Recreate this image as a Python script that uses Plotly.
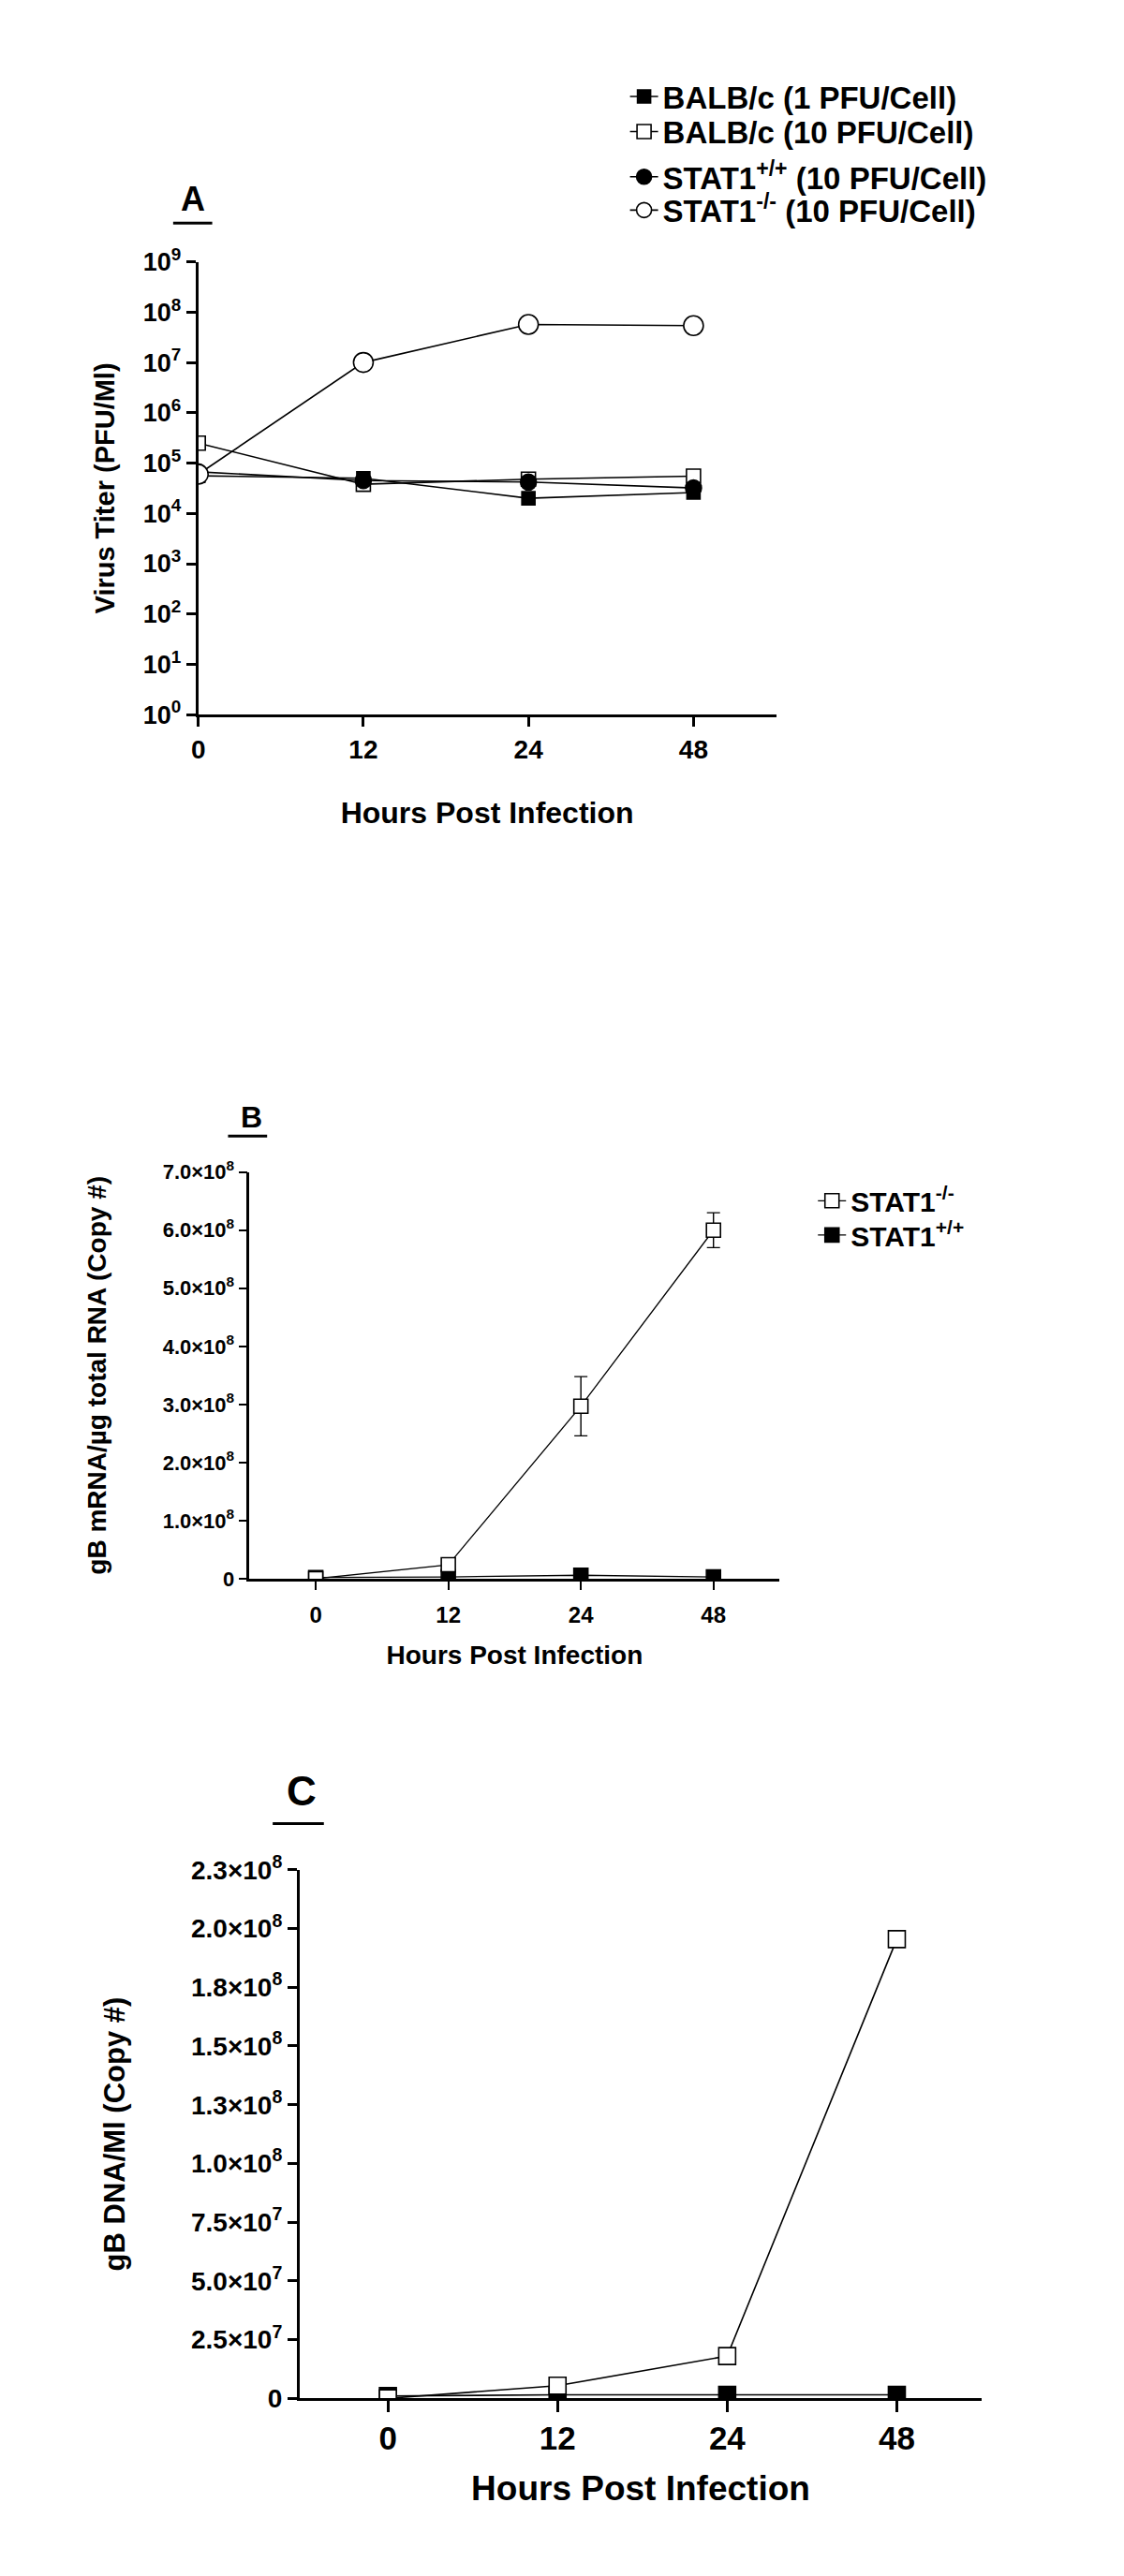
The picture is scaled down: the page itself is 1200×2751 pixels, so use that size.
import plotly.graph_objects as go

# page has an 8px body margin, so the figure is a little smaller than the window
W, H = 1192, 2743
PAD = 8
_FONT = "Liberation Sans, Arial, sans-serif"
_BLACK = "#000000"

# ---------------- data ----------------
hours = ["0", "12", "24", "48"]

# panel A: virus titer (PFU/ml)
titer_balb_1 = [5.6e4, 5.0e4, 2.0e4, 2.6e4]
titer_balb_10 = [2.5e5, 3.8e4, 4.8e4, 5.5e4]
titer_stat_wt = [6.7e4, 4.5e4, 4.2e4, 3.2e4]
titer_stat_ko = [6.0e4, 1.0e7, 5.7e7, 5.4e7]
a_tickvals = [1e0, 1e1, 1e2, 1e3, 1e4, 1e5, 1e6, 1e7, 1e8, 1e9]
a_ticktext = [f"10<sup>{i}</sup>" for i in range(10)]

# panel B: gB mRNA copies / ug total RNA
mrna_ko = [0.0, 2.4e7, 2.97e8, 6.0e8]
mrna_ko_err = [0.0, 0.0, 0.51e8, 0.30e8]
mrna_wt = [2e6, 3e6, 6e6, 3e6]
b_tickvals = [0, 1e8, 2e8, 3e8, 4e8, 5e8, 6e8, 7e8]
b_ticktext = ["0", "1.0×10<sup>8</sup>", "2.0×10<sup>8</sup>", "3.0×10<sup>8</sup>",
              "4.0×10<sup>8</sup>", "5.0×10<sup>8</sup>", "6.0×10<sup>8</sup>",
              "7.0×10<sup>8</sup>"]

# panel C: gB DNA copies / ml
dna_ko = [0.0, 5.4e6, 1.8e7, 1.955e8]
dna_wt = [1.0e6, 1.5e6, 1.5e6, 1.5e6]
c_tickvals = [0, 2.5e7, 5.0e7, 7.5e7, 1.0e8, 1.25e8, 1.5e8, 1.75e8, 2.0e8, 2.25e8]
c_ticktext = ["0", "2.5×10<sup>7</sup>", "5.0×10<sup>7</sup>", "7.5×10<sup>7</sup>",
              "1.0×10<sup>8</sup>", "1.3×10<sup>8</sup>", "1.5×10<sup>8</sup>",
              "1.8×10<sup>8</sup>", "2.0×10<sup>8</sup>", "2.3×10<sup>8</sup>"]


def fx(px):
    return (px - PAD) / W


def fy(py):
    return 1 - (py - PAD) / H


def tfont(size):
    return dict(family=_FONT, size=size, color=_BLACK, weight=700)


def series(x, y, name, symbol, filled, size, xa, ya, legend="legend", width=1.6,
           err=None, show=True):
    kw = {}
    if err is not None:
        kw["error_y"] = dict(type="data", array=err, color=_BLACK, thickness=1.4, width=7)
    return go.Scatter(
        x=x, y=y, name=name, mode="lines+markers",
        xaxis=xa, yaxis=ya, legend=legend, showlegend=show,
        line=dict(color=_BLACK, width=width),
        marker=dict(symbol=symbol, size=size,
                    color=_BLACK if filled else "#FFFFFF",
                    line=dict(color=_BLACK, width=1.6)),
        **kw,
    )


fig = go.Figure()

# ---- A ----
fig.add_trace(series(hours, titer_balb_1, "BALB/c (1 PFU/Cell)", "square", True, 14,
                     "x", "y", legend="legend"))
fig.add_trace(series(hours, titer_balb_10, "BALB/c (10 PFU/Cell)", "square", False, 15,
                     "x", "y", legend="legend2"))
fig.add_trace(series(hours, titer_stat_wt, "STAT1<sup>+/+</sup> (10 PFU/Cell)", "circle", True, 17,
                     "x", "y", legend="legend3"))
fig.add_trace(series(hours, titer_stat_ko, "STAT1<sup>-/-</sup> (10 PFU/Cell)", "circle", False, 21,
                     "x", "y", legend="legend4"))

# ---- B ----
fig.add_trace(series(hours, mrna_wt, "STAT1<sup>+/+</sup>", "square", True, 15,
                     "x2", "y2", legend="legend6", width=1.3))
fig.add_trace(series(hours, mrna_ko, "STAT1<sup>-/-</sup>", "square", False, 15,
                     "x2", "y2", legend="legend5", width=1.3, err=mrna_ko_err))

# ---- C ----
fig.add_trace(series(hours, dna_wt, "STAT1<sup>+/+</sup>", "square", True, 18,
                     "x3", "y3", width=1.6, show=False))
fig.add_trace(series(hours, dna_ko, "STAT1<sup>-/-</sup>", "square", False, 18,
                     "x3", "y3", width=1.6, show=False))

axis_common = dict(showline=True, linecolor=_BLACK, showgrid=False, zeroline=False,
                   ticks="outside", tickcolor=_BLACK, mirror=False)


def legend_at(x_px, y_px, size):
    return dict(x=fx(x_px), y=fy(y_px), xanchor="left", yanchor="middle",
                bgcolor="rgba(0,0,0,0)", font=tfont(size), itemwidth=30,
                itemclick=False, itemdoubleclick=False)


fig.update_layout(
    width=W, height=H,
    paper_bgcolor="#FFFFFF", plot_bgcolor="#FFFFFF",
    margin=dict(l=0, r=0, t=0, b=0),
    font=dict(family=_FONT, color=_BLACK),
    xaxis=dict(**axis_common, domain=[fx(205), fx(826)], anchor="y",
               type="category", range=[0, 3.5], linewidth=3, tickwidth=2.5, ticklen=10,
               tickfont=tfont(28), ticklabelstandoff=0,
               title=dict(text="Hours Post Infection", font=tfont(32), standoff=42)),
    yaxis=dict(**axis_common, domain=[fy(753), fy(263)], anchor="x",
               type="log", range=[0, 9], tickvals=a_tickvals, ticktext=a_ticktext,
               linewidth=3, tickwidth=2.5, ticklen=10, tickfont=tfont(27),
               title=dict(text="Virus Titer (PFU/Ml)", font=tfont(29), standoff=22)),
    xaxis2=dict(**axis_common, domain=[fx(260), fx(830)], anchor="y2",
                type="category", range=[-0.5, 3.5], linewidth=2.5, tickwidth=2, ticklen=9,
                tickfont=tfont(24), ticklabelstandoff=6,
                title=dict(text="Hours Post Infection", font=tfont(28), standoff=21)),
    yaxis2=dict(**axis_common, domain=[fy(1688), fy(1248)], anchor="x2",
                range=[0, 7e8], tickvals=b_tickvals, ticktext=b_ticktext,
                linewidth=2.5, tickwidth=2, ticklen=9, tickfont=tfont(22),
                title=dict(text="gB mRNA/µg total RNA (Copy #)", font=tfont(28), standoff=52)),
    xaxis3=dict(**axis_common, domain=[fx(314), fx(1047)], anchor="y3",
                type="category", range=[-0.52, 3.5], linewidth=3, tickwidth=2.5, ticklen=12,
                tickfont=tfont(35), ticklabelstandoff=-2,
                title=dict(text="Hours Post Infection", font=tfont(37), standoff=22)),
    yaxis3=dict(**axis_common, domain=[fy(2575), fy(2003)], anchor="x3",
                range=[0, 2.25e8], tickvals=c_tickvals, ticktext=c_ticktext,
                linewidth=3, tickwidth=2.5, ticklen=10, tickfont=tfont(28),
                title=dict(text="gB DNA/Ml (Copy #)", font=tfont(31), standoff=62)),
    legend=legend_at(664, 84, 33),
    legend2=legend_at(664, 122, 33),
    legend3=legend_at(664, 171, 33),
    legend4=legend_at(664, 207, 33),
    legend5=legend_at(866, 1279, 30),
    legend6=legend_at(866, 1316, 30),
    showlegend=True,
)

# panel letters, underlined
panel_labels = [("A", 199, 195, 36, 178, 220, 221),
                ("B", 262, 1188, 32, 237, 279, 1209),
                ("C", 316, 1918, 44, 285, 340, 1953)]
for txt, cx, cy, size, u0, u1, uy in panel_labels:
    fig.add_annotation(x=fx(cx), y=fy(cy), xref="paper", yref="paper", text=txt,
                       showarrow=False, font=tfont(size), xanchor="center", yanchor="middle")
    fig.add_shape(type="line", xref="paper", yref="paper",
                  x0=fx(u0), x1=fx(u1), y0=fy(uy), y1=fy(uy),
                  line=dict(color=_BLACK, width=3))

fig.write_html("out.html")
